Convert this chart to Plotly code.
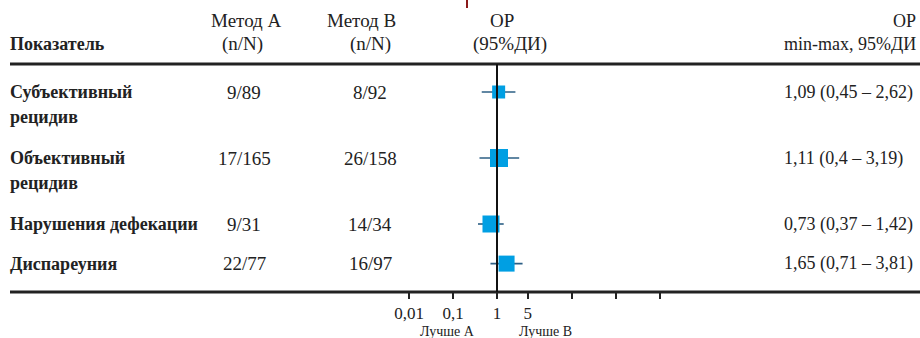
import plotly.graph_objects as go

# ---- data ----
outcomes = [["Субъективный", "рецидив"], ["Объективный", "рецидив"],
            ["Нарушения дефекации"], ["Диспареуния"]]
method_a = ["9/89", "17/165", "9/31", "22/77"]
method_b = ["8/92", "26/158", "14/34", "16/97"]
rr = [1.09, 1.11, 0.73, 1.65]
ci_low = [0.45, 0.40, 0.37, 0.71]
ci_high = [2.62, 3.19, 1.42, 3.81]
rr_text = ["1,09 (0,45 – 2,62)", "1,11 (0,4 – 3,19)", "0,73 (0,37 – 1,42)", "1,65 (0,71 – 3,81)"]
tick_vals = [0.01, 0.1, 1, 5, 50, 500, 5000]
tick_text = ["0,01", "0,1", "1", "5", "", "", ""]

# ---- style / layout ----
W, H = 920, 338
M_TOP, M_BOT = 64, 46
PH = H - M_TOP - M_BOT
marker_sizes = [13, 18, 17, 16]
FONT = "Liberation Serif, Times New Roman, serif"
TXT = "#222222"
BLUE = "#009fe3"
PX_PER_DEC = 44
ONE_PX = 497

# row positions: two-line rows take a full step, one-line rows a smaller one
row_y = []
pos = 0.0
for lab in outcomes:
    row_y.append(pos)
    pos += 1.0 if len(lab) > 1 else 0.6
U = 66.0
FIRST_ROW_PX = 92
y_top = -(FIRST_ROW_PX - M_TOP) / U
y_bot = (M_TOP + PH - FIRST_ROW_PX) / U

x_lo = (0 - ONE_PX) / PX_PER_DEC
x_hi = (W - ONE_PX) / PX_PER_DEC


def px(x):
    return x / W


def py(y):
    return 1 + (M_TOP - y) / PH


fig = go.Figure()

# CI lines
for i in range(len(rr)):
    fig.add_trace(go.Scatter(x=[ci_low[i], ci_high[i]], y=[row_y[i], row_y[i]], mode="lines",
                             line=dict(color="#2c5f85", width=1.6), showlegend=False,
                             hoverinfo="skip"))
fig.add_trace(go.Scatter(x=rr, y=row_y, mode="markers",
                         marker=dict(symbol="square", size=marker_sizes, color=BLUE,
                                     opacity=1, line=dict(width=0)), showlegend=False))

ann = []


def add(text, x, y, anchor="center", size=19, bold=False, yref="paper"):
    t = f"<b>{text}</b>" if bold else text
    ann.append(dict(text=t, x=px(x), y=y, xref="paper", yref=yref, xanchor=anchor,
                    yanchor="middle", showarrow=False,
                    font=dict(family=FONT, size=size, color=TXT)))


# headers
add("Показатель", 8, py(44), anchor="left", bold=True, size=18)
add("Метод А", 246, py(20))
add("(n/N)", 243, py(44))
add("Метод В", 361, py(20))
add("(n/N)", 370, py(44))
add("ОР", 502, py(21))
add("(95%ДИ)", 510, py(44))
add("ОР", 918, py(21), anchor="right", size=18)
add("min-max, 95%ДИ", 782, py(44), anchor="left", size=18)

# rows
for i, lab in enumerate(outcomes):
    y = row_y[i]
    add(lab[0], 8, y, anchor="left", bold=True, yref="y", size=18)
    if len(lab) > 1:
        add(lab[1], 8, y + 25 / U, anchor="left", bold=True, yref="y", size=18)
    add(method_a[i], 244, y, yref="y")
    add(method_b[i], 370, y, yref="y")
    add(rr_text[i], 782, y, anchor="left", yref="y", size=18)

add("Лучше А", 447, py(331), size=14)
add("Лучше В", 545, py(331), size=14)

shapes = [
    dict(type="line", xref="paper", yref="paper", x0=px(10), x1=1, y0=py(64), y1=py(64),
         line=dict(color="#222", width=3)),
    dict(type="line", xref="paper", yref="paper", x0=px(10), x1=1, y0=py(292), y1=py(292),
         line=dict(color="#222", width=3)),
    dict(type="line", xref="x", yref="paper", x0=1, x1=1, y0=0, y1=1,
         line=dict(color="#111", width=2)),
    dict(type="line", xref="paper", yref="paper", x0=px(467), x1=px(467), y0=py(0), y1=py(8),
         line=dict(color="#8b1a1a", width=2)),
]

fig.update_layout(
    width=W, height=H, margin=dict(l=0, r=0, t=M_TOP, b=M_BOT),
    paper_bgcolor="white", plot_bgcolor="white",
    annotations=ann, shapes=shapes, showlegend=False,
    xaxis=dict(type="log", range=[x_lo, x_hi], tickvals=tick_vals, ticktext=tick_text,
               ticks="outside", ticklen=6, tickwidth=2, tickcolor="#222",
               showgrid=False, zeroline=False, showline=False,
               tickfont=dict(family=FONT, size=17, color=TXT)),
    yaxis=dict(range=[y_bot, y_top], visible=False, showgrid=False, zeroline=False),
)

fig.write_html("out.html")
